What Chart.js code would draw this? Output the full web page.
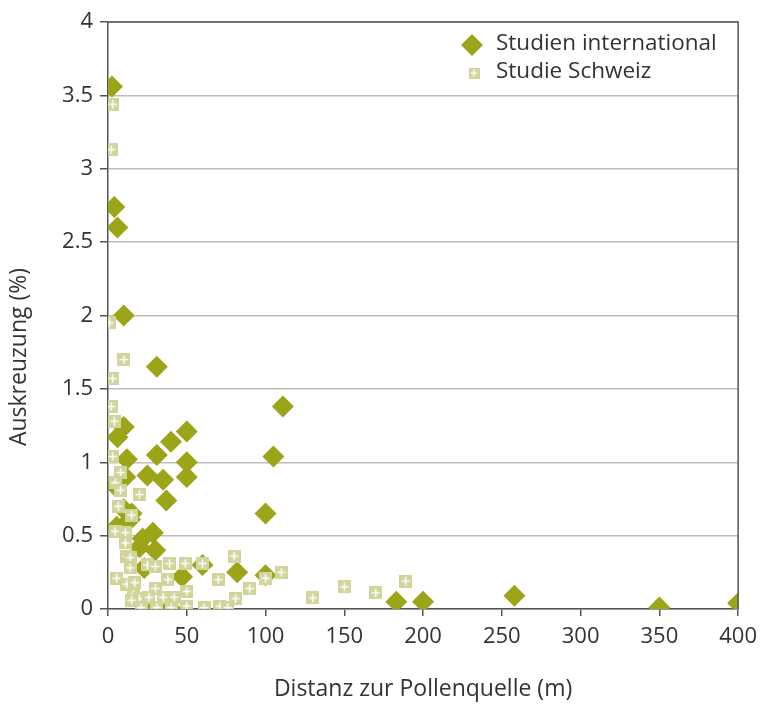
<!DOCTYPE html>
<html>
<head>
<meta charset="utf-8">
<script src="https://cdn.jsdelivr.net/npm/chart.js@4"></script>
<style>
  body { margin: 0; background: #fff; }
  #wrap { width: 765px; height: 704px; }
</style>
</head>
<body>
<div id="wrap"><canvas id="myChart" width="765" height="704"></canvas></div>
<script>
// Studien international: [distance m, outcrossing %]
let intX = [2.5, 4, 6, 10, 31, 111, 105, 100, 10, 6, 40, 50, 31, 50, 12, 25, 35, 50, 11, 4.5,
            37, 14, 10, 5.5, 15, 22, 28.5, 30, 20, 23, 47, 60, 82, 100, 25, 39, 183, 200, 258, 350, 400];
let intY = [3.56, 2.74, 2.60, 2.0, 1.65, 1.38, 1.04, 0.65, 1.24, 1.17, 1.14, 1.21, 1.05, 1.00, 1.02, 0.91, 0.88, 0.90, 0.90, 0.84,
            0.74, 0.61, 0.68, 0.56, 0.65, 0.48, 0.52, 0.40, 0.42, 0.28, 0.22, 0.30, 0.25, 0.23, 0.02, 0.01, 0.05, 0.05, 0.09, 0.01, 0.04];

// Studie Schweiz
let chX = [3, 2, 1, 10, 3, 2, 4, 3, 8, 4.5, 8, 20, 6.5, 15, 4.5, 11, 11, 12, 14, 14,
           5.5, 12, 17, 25, 30, 39, 49, 60, 38, 30, 16, 20, 26, 35, 42, 50, 15, 21, 31, 40,
           50, 61, 70, 80, 71, 76, 81, 90, 100, 110, 130, 150, 170, 189];
let chY = [3.44, 3.13, 1.95, 1.70, 1.57, 1.38, 1.28, 1.04, 0.93, 0.86, 0.81, 0.78, 0.70, 0.64, 0.53, 0.52, 0.45, 0.36, 0.35, 0.28,
           0.21, 0.17, 0.18, 0.30, 0.29, 0.31, 0.31, 0.31, 0.20, 0.14, 0.10, 0.07, 0.08, 0.08, 0.08, 0.12, 0.06, 0.01, 0.01, 0.01,
           0.02, 0.01, 0.20, 0.36, 0.02, 0.01, 0.07, 0.14, 0.21, 0.25, 0.075, 0.15, 0.11, 0.19];

let xTicks = [0, 50, 100, 150, 200, 250, 300, 350, 400];

const olive = '#9ca417';
const pale = '#d1d49b';
const FONT = '"Open Sans", "DejaVu Sans", sans-serif';

function toPoints(xs, ys) {
    return xs.map((x, i) => ({ x: x, y: ys[i] }));
}

// square with white plus, used as point style
function plusSquare(s) {
    let c = document.createElement('canvas');
    c.width = s; c.height = s;
    let g = c.getContext('2d');
    g.fillStyle = pale;
    g.fillRect(0, 0, s, s);
    g.strokeStyle = '#fff';
    g.lineWidth = 1.5;
    let m = s / 2, a = s * 0.32;
    g.beginPath();
    g.moveTo(m - a, m); g.lineTo(m + a, m);
    g.moveTo(m, m - a); g.lineTo(m, m + a);
    g.stroke();
    return c;
}
const sqImg = plusSquare(13);
const sqLegend = plusSquare(11);

// box round the plot + legend + y title
const extras = {
    id: 'extras',
    afterDraw(chart) {
        let ctx = chart.ctx, a = chart.chartArea;
        ctx.save();
        ctx.strokeStyle = '#555';
        ctx.lineWidth = 1.5;
        ctx.beginPath();
        ctx.moveTo(a.left, a.top); ctx.lineTo(a.right, a.top); ctx.lineTo(a.right, a.bottom);
        ctx.stroke();

        // legend
        ctx.fillStyle = olive;
        ctx.beginPath();
        let lx = 472, ly = 45, r = 11;
        ctx.moveTo(lx, ly - r); ctx.lineTo(lx + r, ly); ctx.lineTo(lx, ly + r); ctx.lineTo(lx - r, ly);
        ctx.closePath(); ctx.fill();
        ctx.drawImage(sqLegend, 474 - 5.5, 73 - 5.5);
        ctx.fillStyle = '#333';
        ctx.font = '22.5px ' + FONT;
        ctx.textBaseline = 'middle';
        ctx.fillText(chart.data.datasets[0].label, 496, 44);
        ctx.fillText(chart.data.datasets[1].label, 496, 72);

        // y title
        ctx.font = '23px ' + FONT;
        ctx.translate(19, 357);
        ctx.rotate(-Math.PI / 2);
        ctx.textAlign = 'center';
        ctx.fillText('Auskreuzung (%)', 0, 0);
        ctx.restore();
    }
};

let ctx = document.getElementById('myChart').getContext('2d');

let myChart = new Chart(ctx, {
    type: 'scatter',
    data: {
        datasets: [{
            label: 'Studien international',
            data: toPoints(intX, intY),
            pointStyle: 'rectRot',
            pointRadius: 11,
            backgroundColor: olive,
            borderWidth: 0,
            order: 1
        }, {
            label: 'Studie Schweiz',
            data: toPoints(chX, chY),
            pointStyle: sqImg,
            order: 0
        }]
    },
    options: {
        responsive: false,
        animation: false,
        layout: { padding: { left: 0, right: 25, top: 22, bottom: 0 } },
        plugins: {
            legend: { display: false },
            tooltip: { enabled: false }
        },
        scales: {
            x: {
                type: 'linear',
                min: 0, max: 400,
                afterFit(s) { s.height = 95; },
                afterBuildTicks(s) { s.ticks = xTicks.map(v => ({ value: v })); },
                grid: { drawOnChartArea: false, drawTicks: true, tickLength: 7, tickColor: '#555', lineWidth: 1.5 },
                border: { color: '#555', width: 1.5 },
                ticks: { color: '#333', font: { family: FONT, size: 22 }, padding: 8 },
                title: {
                    display: true, text: 'Distanz zur Pollenquelle (m)', color: '#333',
                    font: { family: FONT, size: 23 }, padding: { top: 0, bottom: 1 }
                }
            },
            y: {
                min: 0, max: 4,
                afterFit(s) { s.width = 108; },
                grid: { color: '#bdbdbd', lineWidth: 1.5, tickLength: 8, tickColor: '#555' },
                border: { color: '#555', width: 1.5 },
                ticks: {
                    stepSize: 0.5, color: '#333', font: { family: FONT, size: 22 }, padding: 7,
                    callback: v => String(v)
                }
            }
        }
    },
    plugins: [extras]
});
</script>
</body>
</html>
